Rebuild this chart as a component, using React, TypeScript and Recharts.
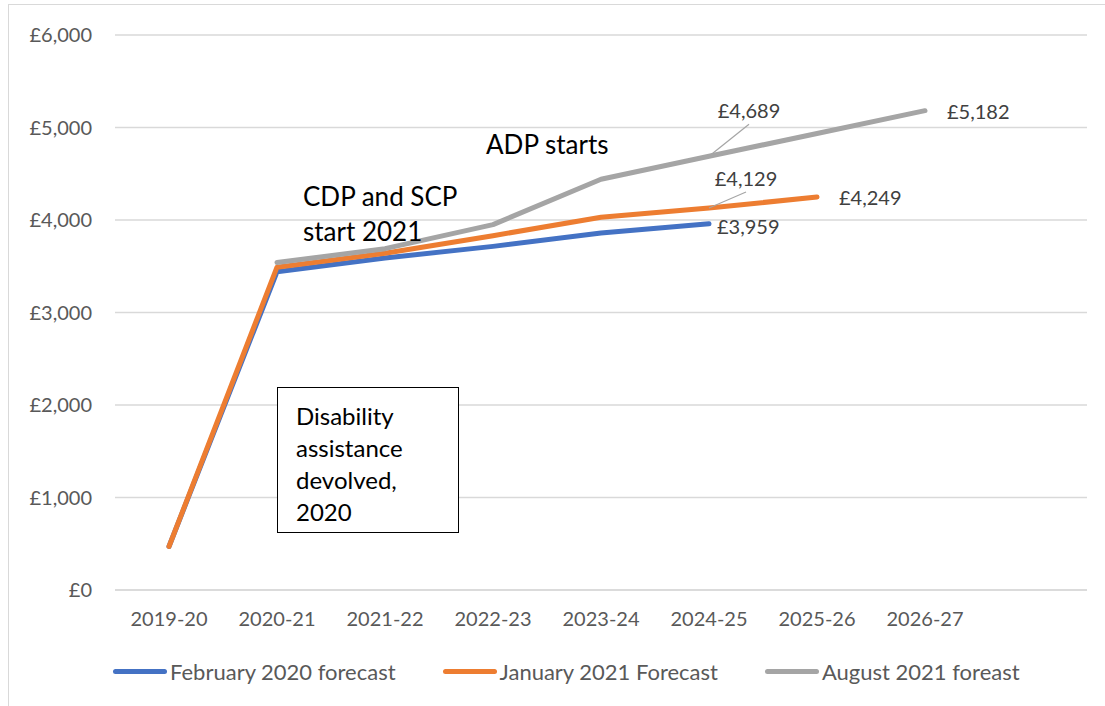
import { LineChart, Line, XAxis, YAxis, CartesianGrid, Legend, LabelList } from 'recharts';

const years = ['2019-20', '2020-21', '2021-22', '2022-23', '2023-24', '2024-25', '2025-26', '2026-27', ''];
const feb2020 = [470, 3440, 3590, 3715, 3860, 3959, null, null, null];
const jan2021 = [470, 3490, 3640, 3830, 4030, 4129, 4249, null, null];
const aug2021 = [null, 3540, 3690, 3950, 4440, 4689, 4935, 5182, null];
const yTicks = [0, 1000, 2000, 3000, 4000, 5000, 6000];

const seriesNames = ['February 2020 forecast', 'January 2021 Forecast', 'August 2021 foreast'];
const seriesColors = ['#4472C4', '#ED7D31', '#A5A5A5'];

const FONT = 'Lato, "Open Sans", sans-serif';

const chartData = years.map((year, i) => ({
  year,
  feb: feb2020[i],
  jan: jan2021[i],
  aug: aug2021[i],
}));

const money = (v: number) => '£' + v.toLocaleString('en-GB');

// which points get a value label, and where it sits relative to the point
type LabelSpec = { index: number; dx: number; dy: number; leader?: boolean };
const labelSpecs: Record<string, LabelSpec[]> = {
  feb: [{ index: 5, dx: 8, dy: 2 }],
  jan: [
    { index: 5, dx: 37, dy: -28, leader: true },
    { index: 6, dx: 22, dy: 0 },
  ],
  aug: [
    { index: 5, dx: 40, dy: -44, leader: true },
    { index: 7, dx: 22, dy: 0 },
  ],
};

const makeLabel = (key: string) => (props: any) => {
  const { x, y, value, index } = props;
  const spec = labelSpecs[key].find(s => s.index === index);
  if (!spec || value == null) return null;
  if (spec.leader) {
    return (
      <g>
        <line x1={x} y1={y} x2={x + spec.dx} y2={y + spec.dy + 12} stroke="#A5A5A5" strokeWidth={1.2} />
        <text x={x + spec.dx} y={y + spec.dy - 2} textAnchor="middle" dominantBaseline="central"
          fontFamily={FONT} fontSize={20} fill="#404040">
          {money(value)}
        </text>
      </g>
    );
  }
  return (
    <text x={x + spec.dx} y={y + spec.dy} textAnchor="start" dominantBaseline="central"
      fontFamily={FONT} fontSize={20} fill="#404040">
      {money(value)}
    </text>
  );
};

const LegendContent = () => (
  <div style={{ display: 'flex', justifyContent: 'flex-start', paddingLeft: 113, height: 30, alignItems: 'center' }}>
    {seriesNames.map((name, i) => (
      <div key={name} style={{ display: 'flex', alignItems: 'center', marginRight: 47 }}>
        <div style={{ width: 54, height: 5, borderRadius: 3, background: seriesColors[i] }} />
        <span style={{ fontFamily: FONT, fontSize: 22, color: '#595959', marginLeft: 3 }}>{name}</span>
      </div>
    ))}
  </div>
);

const noteStyle: React.CSSProperties = {
  position: 'absolute',
  fontFamily: FONT,
  fontSize: 26,
  color: '#000',
  lineHeight: '35px',
};

export default function App() {
  return (
    <div style={{ position: 'absolute', left: 0, top: 0, width: 1105, height: 706, overflow: 'hidden', background: '#fff' }}>
      <div style={{ position: 'absolute', left: 8, top: 4, width: 1200, height: 800, border: '1.5px solid #d9d9d9' }} />
      <LineChart width={1105} height={706} data={chartData} margin={{ top: 35, right: 18, bottom: 20, left: 0 }}>
        <CartesianGrid vertical={false} stroke="#d9d9d9" strokeWidth={1.5} />
        <XAxis dataKey="year" height={66} tickLine={false} tickSize={0} tickMargin={22}
          padding={{ left: 54, right: 54 }}
          axisLine={{ stroke: '#d9d9d9', strokeWidth: 1.5 }}
          tick={{ fill: '#595959', fontSize: 20, fontFamily: FONT }} interval={0} />
        <YAxis width={115} domain={[0, 6000]} ticks={yTicks} tickLine={false} axisLine={false}
          tickSize={0} tickMargin={23} tickFormatter={money}
          tick={{ fill: '#595959', fontSize: 20, fontFamily: FONT }} />
        <Legend verticalAlign="bottom" content={<LegendContent />} />
        <Line dataKey="feb" name={seriesNames[0]} stroke={seriesColors[0]} strokeWidth={5} strokeLinecap="round"
          strokeLinejoin="round" dot={false} isAnimationActive={false}>
          <LabelList dataKey="feb" content={makeLabel('feb')} />
        </Line>
        <Line dataKey="jan" name={seriesNames[1]} stroke={seriesColors[1]} strokeWidth={5} strokeLinecap="round"
          strokeLinejoin="round" dot={false} isAnimationActive={false}>
          <LabelList dataKey="jan" content={makeLabel('jan')} />
        </Line>
        <Line dataKey="aug" name={seriesNames[2]} stroke={seriesColors[2]} strokeWidth={5} strokeLinecap="round"
          strokeLinejoin="round" dot={false} isAnimationActive={false}>
          <LabelList dataKey="aug" content={makeLabel('aug')} />
        </Line>
      </LineChart>
      <div style={{ ...noteStyle, left: 486, top: 127 }}>ADP starts</div>
      <div style={{ ...noteStyle, left: 303, top: 179 }}>CDP and SCP<br />start 2021</div>
      <div style={{
        position: 'absolute', left: 277, top: 387, width: 182, height: 146, border: '1.5px solid #000',
        background: '#fff', boxSizing: 'border-box', padding: '12px 0 0 18px',
        fontFamily: FONT, fontSize: 24, lineHeight: '32px', color: '#000',
      }}>
        Disability<br />assistance<br />devolved,<br />2020
      </div>
    </div>
  );
}
